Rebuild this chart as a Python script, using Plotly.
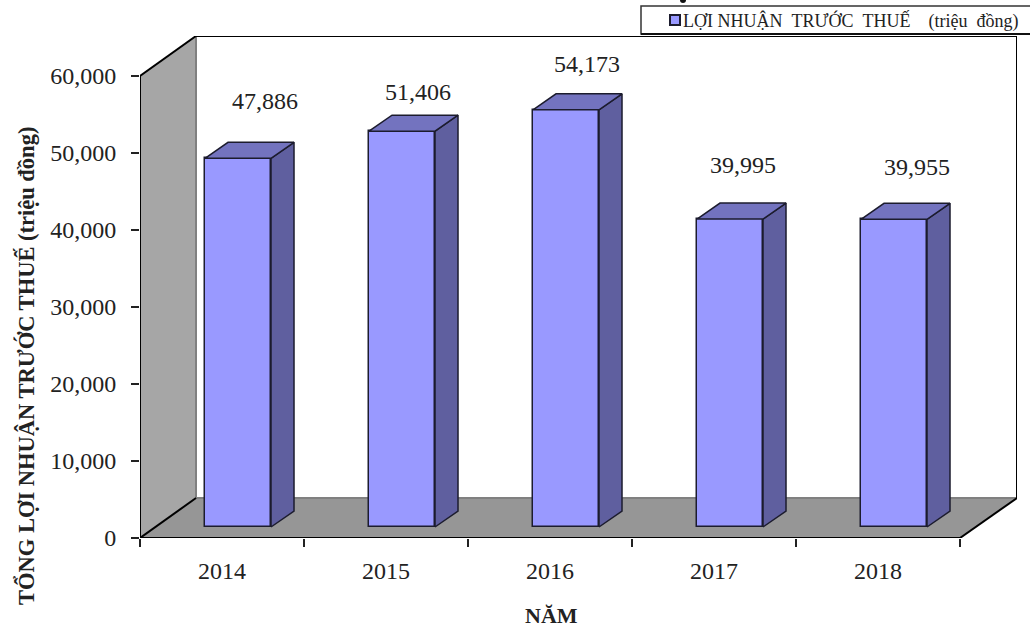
import plotly.graph_objects as go

# --- data ---
years = ["2014", "2015", "2016", "2017", "2018"]
profit = [47886, 51406, 54173, 39995, 39955]
y_ticks = [0, 10000, 20000, 30000, 40000, 50000, 60000]
series_name = "LỢI\u00a0NHUẬN\u00a0\u00a0TRƯỚC\u00a0\u00a0THUẾ\u00a0\u00a0\u00a0\u00a0(triệu\u00a0\u00a0đồng)"
y_title = "TỔNG LỢI NHUẬN TRƯỚC THUẾ (triệu đồng)"
x_title = "NĂM"

# --- 3-D projection, in axis units ---
W, H = 1030, 629
L, R, T, B = 140, 13, 36, 91
Y_MAX = 60000
WALL_DX = 56 / 164          # depth of the box, category units
WALL_DY = 5195              # depth of the box, value units
X_MAX = (W - L - R) / 164
Y_TOP = Y_MAX + WALL_DY
BAR_SHIFT = 0.0976          # bars stand part way into the box
BAR_BASE = 1429
BAR_W = 66 / 164
BAR_DX = 23 / 164
BAR_DY = 2078

FONT = "Liberation Serif"
TXT = "#222222"
EDGE = "#1c1c2e"


def px(v):
    return (v - L) / (W - L - R)


def py(v):
    return (H - B - v) / (H - T - B)


n = len(years)
centers = [i + 0.5 for i in range(n)]
bar_x = [c + BAR_SHIFT for c in centers]

side_x, side_y, top_x, top_y = [], [], [], []
for cx, v in zip(bar_x, profit):
    xl, xr = cx - BAR_W / 2, cx + BAR_W / 2
    yt = BAR_BASE + v
    side_x += [xr, xr + BAR_DX, xr + BAR_DX, xr, xr, None]
    side_y += [BAR_BASE, BAR_BASE + BAR_DY, yt + BAR_DY, yt, BAR_BASE, None]
    top_x += [xl, xl + BAR_DX, xr + BAR_DX, xr, xl, None]
    top_y += [yt, yt + BAR_DY, yt + BAR_DY, yt, yt, None]

fig = go.Figure()
fig.add_trace(go.Bar(
    x=bar_x, y=profit, base=BAR_BASE, width=BAR_W, name=series_name,
    marker=dict(color="#9999FF", line=dict(color=EDGE, width=1.5)),
    hoverinfo="skip", showlegend=False,
))
fig.add_trace(go.Scatter(x=side_x, y=side_y, mode="lines", fill="toself",
                         fillcolor="#5F5F9F", line=dict(color=EDGE, width=1.5),
                         hoverinfo="skip", showlegend=False))
fig.add_trace(go.Scatter(x=top_x, y=top_y, mode="lines", fill="toself",
                         fillcolor="#7373BF", line=dict(color=EDGE, width=1.5),
                         hoverinfo="skip", showlegend=False))


def poly(pts, fill, line=None, width=0, layer="below"):
    path = "M" + " L".join(f"{x},{y}" for x, y in pts) + " Z"
    return dict(type="path", xref="x", yref="y", path=path, fillcolor=fill,
                line=dict(color=line or "rgba(0,0,0,0)", width=width), layer=layer)


def seg(p, q, color="#000000", width=2):
    return dict(type="line", xref="x", yref="y", x0=p[0], y0=p[1], x1=q[0], y1=q[1],
                line=dict(color=color, width=width), layer="below")


shapes = [
    poly([(0, 0), (WALL_DX, WALL_DY), (WALL_DX, Y_TOP), (0, Y_MAX)], "#A6A6A6"),
    poly([(0, 0), (WALL_DX, WALL_DY), (X_MAX, WALL_DY), (n, 0)], "#969696"),
    seg((WALL_DX, WALL_DY), (WALL_DX, Y_TOP), "#808080", 2),
    seg((WALL_DX, WALL_DY), (X_MAX, WALL_DY), "#808080", 2),
    seg((WALL_DX, Y_TOP), (X_MAX, Y_TOP)),
    seg((X_MAX, Y_TOP), (X_MAX, WALL_DY)),
    seg((0, Y_MAX), (WALL_DX, Y_TOP)),
    seg((0, 0), (WALL_DX, WALL_DY)),
    seg((n, 0), (X_MAX, WALL_DY)),
    seg((0, 0), (0, Y_MAX)),
    seg((0, 0), (n, 0)),
    # legend box with its heavier lower edge, its swatch, and the clipped mark above it
    dict(type="rect", xref="paper", yref="paper",
         x0=px(641), x1=px(W + 5), y0=py(34), y1=py(6),
         fillcolor="white", line=dict(color="#333333", width=1.5), layer="below"),
    dict(type="line", xref="paper", yref="paper",
         x0=px(641), x1=px(W + 5), y0=py(34), y1=py(34),
         line=dict(color="#111111", width=2), layer="below"),
    dict(type="rect", xref="paper", yref="paper",
         x0=px(670), x1=px(680), y0=py(25), y1=py(15),
         fillcolor="#9999FF", line=dict(color="#1c1c2e", width=2), layer="below"),
    dict(type="circle", xref="paper", yref="paper",
         x0=px(680), x1=px(686), y0=py(3), y1=py(-3),
         fillcolor="#111111", line=dict(width=0), layer="below"),
]

# hand-placed data labels of the original, in pixels from each bar's top centre
label_shift = [(27, 57), (16, 39), (21, 46), (13, 54), (23, 52)]
annotations = [
    dict(x=cx, y=BAR_BASE + v, xref="x", yref="y", text=f"{v:,}", showarrow=False,
         xshift=dx, yshift=dy, font=dict(family=FONT, size=24, color=TXT))
    for cx, v, (dx, dy) in zip(bar_x, profit, label_shift)
]
annotations += [
    dict(x=px(26), y=py(366), xref="paper", yref="paper", xanchor="center", yanchor="middle",
         text=f"<b>{y_title}</b>", textangle=-90, showarrow=False,
         font=dict(family=FONT, size=22.5, color=TXT)),
    dict(x=px(551), y=py(615), xref="paper", yref="paper", xanchor="center", yanchor="middle",
         text=f"<b>{x_title}</b>", showarrow=False,
         font=dict(family=FONT, size=22, color=TXT)),
    dict(x=px(681), y=py(21), xref="paper", yref="paper", xanchor="left", yanchor="middle",
         text=series_name, showarrow=False,
         font=dict(family=FONT, size=18, color=TXT)),
]

fig.update_layout(
    width=W, height=H, margin=dict(l=L, r=R, t=T, b=B, autoexpand=False),
    paper_bgcolor="white", plot_bgcolor="white", showlegend=False,
    shapes=shapes, annotations=annotations, bargap=0,
    xaxis=dict(range=[0, X_MAX], showgrid=False, zeroline=False, showline=False,
               tickmode="array", tickvals=centers, ticktext=years, ticks="",
               ticklabelstandoff=16,
               minor=dict(tickmode="array", tickvals=list(range(n + 1)), ticks="outside",
                          ticklen=8, tickwidth=1.5, tickcolor="#222222", showgrid=False),
               tickfont=dict(family=FONT, size=24, color=TXT)),
    yaxis=dict(range=[0, Y_TOP], showgrid=False, zeroline=False, showline=False,
               tickmode="array", tickvals=y_ticks, tickformat=",d", ticks="outside",
               ticklen=8, tickwidth=1.5, tickcolor="#222222", ticklabelstandoff=10,
               tickfont=dict(family=FONT, size=24, color=TXT)),
)

fig.write_html("out.html", config={"displayModeBar": False},
               post_script="document.body.style.margin='0';window.dispatchEvent(new Event('resize'));")
